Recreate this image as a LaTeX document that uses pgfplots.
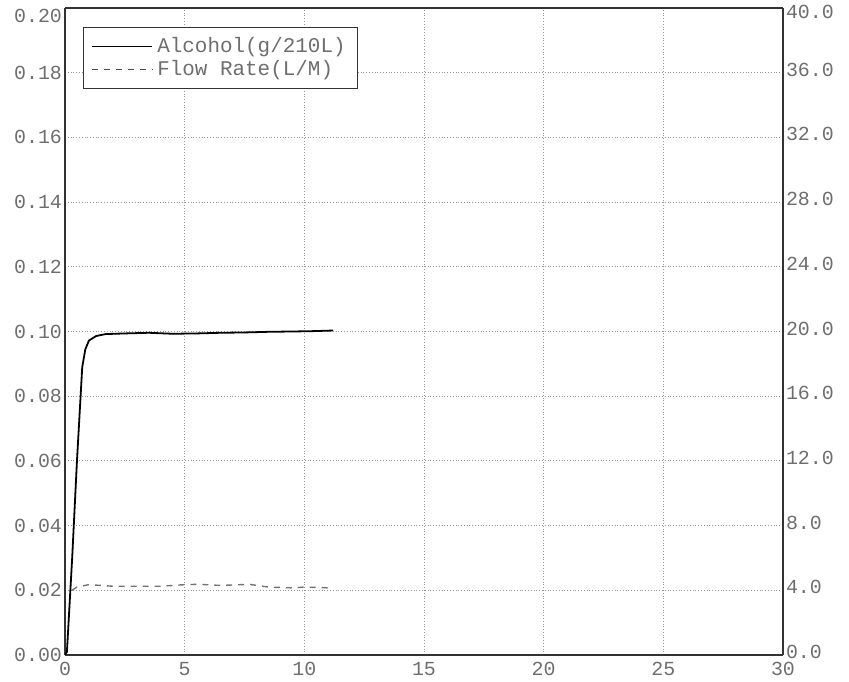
\documentclass[border=0pt]{standalone}
\usepackage{fontspec}
\setmainfont{Liberation Mono}
\usepackage{pgfplots}
\pgfplotsset{compat=1.18}
\definecolor{txt}{RGB}{110,110,110}
\definecolor{grd}{RGB}{150,150,150}
\begin{document}
\fontsize{10}{12}\selectfont
\begin{tikzpicture}[x=1bp,y=1bp]
\pgfplotsset{
  common/.style={
    scale only axis, width=359bp, height=323.5bp,
    xmin=0, xmax=30,
    /pgf/number format/assume math mode=true,
    tick label style={font=\fontsize{10}{12}\selectfont, text=txt},
    axis line style={black!80, line width=0.7pt},
    major tick length=0pt,
  }
}
\begin{axis}[common,
  name=main,
  ymin=0, ymax=0.2,
  xtick={0,5,...,30},
  ytick={0,0.02,...,0.18},
  extra y ticks={0.2},
  extra y tick style={yticklabel style={yshift=-4bp}},
  grid=major,
  grid style={grd, densely dotted, line width=0.5pt},
  y tick label style={/pgf/number format/fixed, /pgf/number format/fixed zerofill, /pgf/number format/precision=2, xshift=2bp},
  xticklabel style={yshift=0bp},
  axis y line*=left, axis x line*=bottom,
  legend style={at={(0.025,0.971)}, anchor=north west, draw=black!80, line width=0.6pt,
    font=\fontsize{10.5}{12.5}\selectfont, text=txt, inner xsep=4bp, inner ysep=3bp, row sep=-1.5bp,
    cells={anchor=west}},
  legend image code/.code={\draw[#1] (0bp,0bp) -- (30bp,0bp);},
]
\addplot[black, line width=0.9pt] coordinates {
(0,0) (0.08,0.001) (0.3,0.03) (0.5,0.06) (0.72,0.089) (0.85,0.0945) (1.0,0.0972)
(1.3,0.0986) (1.7,0.0992) (2.5,0.0994) (3.5,0.0996) (4.5,0.0993) (5.5,0.0994)
(6.5,0.0996) (7.5,0.0997) (8.5,0.0999) (9.5,0.1) (10.3,0.1001) (11.2,0.1003)};
\addlegendentry{Alcohol(g/210L)}
\addlegendimage{black!70, dashed, line width=0.6pt}
\addlegendentry{Flow Rate(L/M)}
\end{axis}
\begin{axis}[common,
  ymin=0, ymax=40,
  ytick={0,4,...,36},
  extra y ticks={40},
  extra y tick style={yticklabel style={yshift=-3.5bp}},
  xtick=\empty,
  axis y line*=right, axis x line*=top,
  y tick label style={/pgf/number format/fixed, /pgf/number format/fixed zerofill, /pgf/number format/precision=1, xshift=-2bp, yshift=1.5bp},
]
\addplot[black!55, dashed, line width=0.7pt] coordinates {
(0.3,4.0) (0.5,4.2) (1,4.35) (2,4.25) (3,4.25) (4,4.25) (5,4.35) (5.6,4.37) (6.5,4.3)
(7.7,4.37) (8.5,4.2) (9.5,4.15) (10,4.2) (11,4.15)};
\end{axis}
\pgfresetboundingbox
\path (main.south west) ++(-32.5bp,-13.5bp) rectangle ++(424.5bp,341bp);
\end{tikzpicture}
\end{document}
